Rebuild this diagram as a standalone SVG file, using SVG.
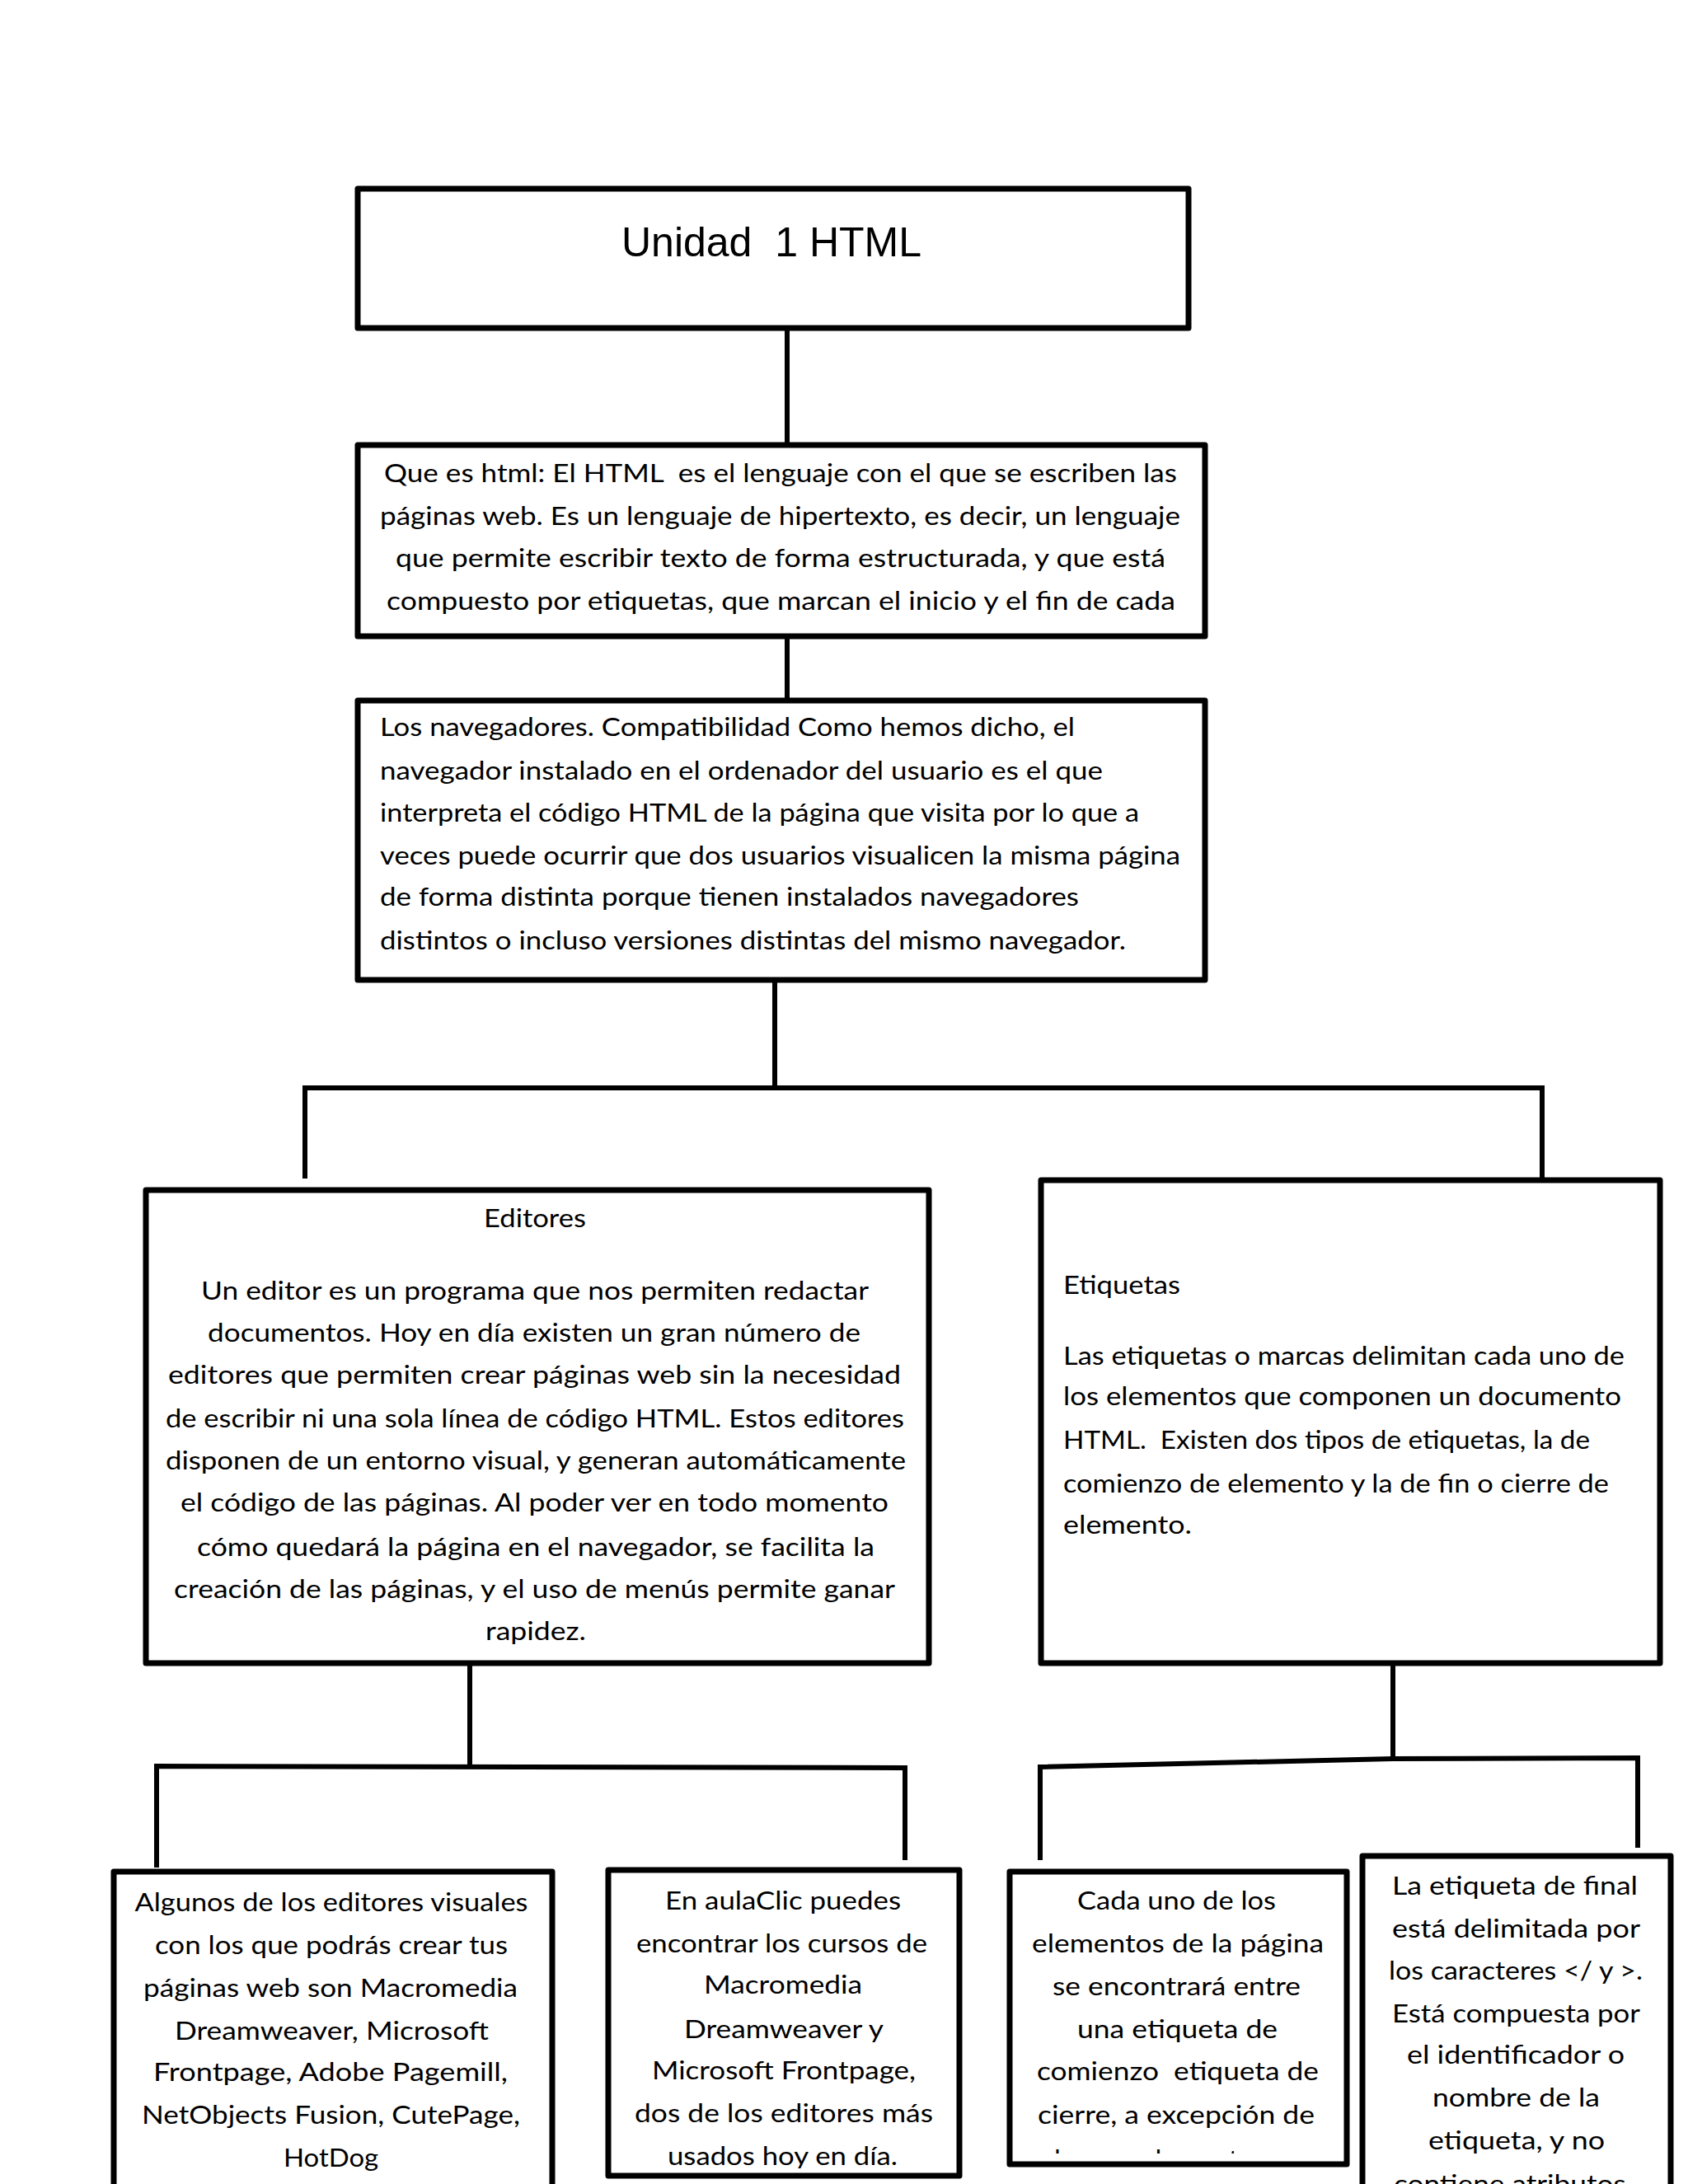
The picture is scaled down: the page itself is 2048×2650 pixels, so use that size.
<svg xmlns="http://www.w3.org/2000/svg" width="2048" height="2650" viewBox="0 0 2048 2650">
<style>
.box{fill:#fff;stroke:#000;stroke-width:7;stroke-linejoin:round}
.conn{fill:none;stroke:#000;stroke-width:6;stroke-linejoin:miter}
.t{font-family:Lato,"Noto Sans","Liberation Sans",sans-serif;font-size:31px;fill:#000}
.c{text-anchor:middle}
.title{font-family:"Liberation Sans",Arial,sans-serif;font-size:50px;fill:#000;text-anchor:middle}
</style>
<defs>
<clipPath id="clipCada"><rect x="1225" y="2271" width="409" height="342"/></clipPath>
<clipPath id="clipAula"><rect x="738" y="2269" width="426" height="362"/></clipPath>
</defs>
<rect width="2048" height="2650" fill="#fff"/>

<g id="connectors">
<line class="conn" x1="955" y1="398" x2="955" y2="540"/>
<line class="conn" x1="955" y1="772" x2="955" y2="850"/>
<polyline class="conn" points="940,1189 940,1320"/>
<polyline class="conn" points="370,1430 370,1320 1871,1320 1871,1432"/>
<line class="conn" x1="570" y1="2018" x2="570" y2="2143"/>
<polyline class="conn" points="190,2266 190,2143 1098,2145 1098,2257"/>
<line class="conn" x1="1690" y1="2018" x2="1690" y2="2136"/>
<polyline class="conn" points="1262,2257 1262,2144 1690,2134 1987,2133 1987,2242"/>
</g>

<g id="node-title">
<rect class="box" x="434" y="229" width="1008" height="169"/>
<text class="title" x="936" y="311" xml:space="preserve">Unidad  1 HTML</text>
</g>

<g id="node-que-es-html">
<rect class="box" x="434" y="540" width="1028" height="232"/>
<text class="t c" x="947" y="585" textLength="962" lengthAdjust="spacingAndGlyphs" xml:space="preserve">Que es html: El HTML  es el lenguaje con el que se escriben las</text>
<text class="t c" x="946.5" y="637" textLength="971" lengthAdjust="spacingAndGlyphs">páginas web. Es un lenguaje de hipertexto, es decir, un lenguaje</text>
<text class="t c" x="947" y="688" textLength="934" lengthAdjust="spacingAndGlyphs">que permite escribir texto de forma estructurada, y que está</text>
<text class="t c" x="947.5" y="740" textLength="957" lengthAdjust="spacingAndGlyphs">compuesto por etiquetas, que marcan el inicio y el fin de cada</text>
</g>

<g id="node-navegadores">
<rect class="box" x="434" y="850" width="1028" height="339"/>
<text class="t" x="461" y="893" textLength="843" lengthAdjust="spacingAndGlyphs">Los navegadores. Compatibilidad Como hemos dicho, el</text>
<text class="t" x="461" y="946" textLength="877" lengthAdjust="spacingAndGlyphs">navegador instalado en el ordenador del usuario es el que</text>
<text class="t" x="461" y="997" textLength="921" lengthAdjust="spacingAndGlyphs">interpreta el código HTML de la página que visita por lo que a</text>
<text class="t" x="461" y="1049" textLength="971" lengthAdjust="spacingAndGlyphs">veces puede ocurrir que dos usuarios visualicen la misma página</text>
<text class="t" x="461" y="1099" textLength="848" lengthAdjust="spacingAndGlyphs">de forma distinta porque tienen instalados navegadores</text>
<text class="t" x="461" y="1152" textLength="905" lengthAdjust="spacingAndGlyphs">distintos o incluso versiones distintas del mismo navegador.</text>
</g>

<g id="node-editores">
<rect class="box" x="177" y="1444" width="950" height="574"/>
<text class="t c" x="649" y="1489" textLength="124" lengthAdjust="spacingAndGlyphs">Editores</text>
<text class="t c" x="649" y="1577" textLength="810" lengthAdjust="spacingAndGlyphs">Un editor es un programa que nos permiten redactar</text>
<text class="t c" x="648" y="1628" textLength="792" lengthAdjust="spacingAndGlyphs">documentos. Hoy en día existen un gran número de</text>
<text class="t c" x="648.5" y="1679" textLength="889" lengthAdjust="spacingAndGlyphs">editores que permiten crear páginas web sin la necesidad</text>
<text class="t c" x="649" y="1732" textLength="896" lengthAdjust="spacingAndGlyphs">de escribir ni una sola línea de código HTML. Estos editores</text>
<text class="t c" x="650" y="1783" textLength="898" lengthAdjust="spacingAndGlyphs">disponen de un entorno visual, y generan automáticamente</text>
<text class="t c" x="648.5" y="1834" textLength="859" lengthAdjust="spacingAndGlyphs">el código de las páginas. Al poder ver en todo momento</text>
<text class="t c" x="650" y="1888" textLength="822" lengthAdjust="spacingAndGlyphs">cómo quedará la página en el navegador, se facilita la</text>
<text class="t c" x="648.5" y="1939" textLength="875" lengthAdjust="spacingAndGlyphs">creación de las páginas, y el uso de menús permite ganar</text>
<text class="t c" x="650" y="1990" textLength="122" lengthAdjust="spacingAndGlyphs">rapidez.</text>
</g>

<g id="node-etiquetas">
<rect class="box" x="1263" y="1432" width="751" height="586"/>
<text class="t" x="1290" y="1570" textLength="142" lengthAdjust="spacingAndGlyphs">Etiquetas</text>
<text class="t" x="1290" y="1656" textLength="681" lengthAdjust="spacingAndGlyphs">Las etiquetas o marcas delimitan cada uno de</text>
<text class="t" x="1290" y="1705" textLength="677" lengthAdjust="spacingAndGlyphs">los elementos que componen un documento</text>
<text class="t" x="1290" y="1758" textLength="639" lengthAdjust="spacingAndGlyphs" xml:space="preserve">HTML.  Existen dos tipos de etiquetas, la de</text>
<text class="t" x="1290" y="1811" textLength="662" lengthAdjust="spacingAndGlyphs">comienzo de elemento y la de fin o cierre de</text>
<text class="t" x="1290" y="1861" textLength="156" lengthAdjust="spacingAndGlyphs">elemento.</text>
</g>

<g id="node-algunos">
<rect class="box" x="138" y="2271" width="532" height="440"/>
<text class="t c" x="402" y="2319" textLength="477" lengthAdjust="spacingAndGlyphs">Algunos de los editores visuales</text>
<text class="t c" x="402" y="2371" textLength="428" lengthAdjust="spacingAndGlyphs">con los que podrás crear tus</text>
<text class="t c" x="401" y="2423" textLength="454" lengthAdjust="spacingAndGlyphs">páginas web son Macromedia</text>
<text class="t c" x="402.5" y="2475" textLength="381" lengthAdjust="spacingAndGlyphs">Dreamweaver, Microsoft</text>
<text class="t c" x="401" y="2525" textLength="430" lengthAdjust="spacingAndGlyphs">Frontpage, Adobe Pagemill,</text>
<text class="t c" x="401.5" y="2577" textLength="459" lengthAdjust="spacingAndGlyphs">NetObjects Fusion, CutePage,</text>
<text class="t c" x="401.5" y="2629" textLength="115" lengthAdjust="spacingAndGlyphs">HotDog</text>
</g>

<g id="node-aulaclic">
<rect class="box" x="738" y="2269" width="426" height="371"/>
<g clip-path="url(#clipAula)">
<text class="t c" x="950" y="2317" textLength="286" lengthAdjust="spacingAndGlyphs">En aulaClic puedes</text>
<text class="t c" x="948.5" y="2369" textLength="353" lengthAdjust="spacingAndGlyphs">encontrar los cursos de</text>
<text class="t c" x="950" y="2419" textLength="192" lengthAdjust="spacingAndGlyphs">Macromedia</text>
<text class="t c" x="951" y="2473" textLength="242" lengthAdjust="spacingAndGlyphs">Dreamweaver y</text>
<text class="t c" x="951" y="2523" textLength="320" lengthAdjust="spacingAndGlyphs">Microsoft Frontpage,</text>
<text class="t c" x="951" y="2575" textLength="362" lengthAdjust="spacingAndGlyphs">dos de los editores más</text>
<text class="t c" x="949.5" y="2627" textLength="279" lengthAdjust="spacingAndGlyphs">usados hoy en día.</text>
</g>
</g>

<g id="node-cada-uno">
<rect class="box" x="1225" y="2271" width="409" height="355"/>
<g clip-path="url(#clipCada)">
<text class="t c" x="1427.5" y="2317" textLength="241" lengthAdjust="spacingAndGlyphs">Cada uno de los</text>
<text class="t c" x="1429" y="2369" textLength="354" lengthAdjust="spacingAndGlyphs">elementos de la página</text>
<text class="t c" x="1427.5" y="2421" textLength="301" lengthAdjust="spacingAndGlyphs">se encontrará entre</text>
<text class="t c" x="1428.5" y="2473" textLength="243" lengthAdjust="spacingAndGlyphs">una etiqueta de</text>
<text class="t c" x="1429" y="2524" textLength="342" lengthAdjust="spacingAndGlyphs" xml:space="preserve">comienzo  etiqueta de</text>
<text class="t c" x="1427" y="2577" textLength="336" lengthAdjust="spacingAndGlyphs">cierre, a excepción de</text>
<text class="t c" x="1431" y="2631" textLength="337" lengthAdjust="spacingAndGlyphs">algunos elementos que</text>
</g>
</g>

<g id="node-etiqueta-final">
<rect class="box" x="1653" y="2252" width="374" height="460"/>
<text class="t c" x="1838" y="2299" textLength="298" lengthAdjust="spacingAndGlyphs">La etiqueta de final</text>
<text class="t c" x="1839.5" y="2351" textLength="301" lengthAdjust="spacingAndGlyphs">está delimitada por</text>
<text class="t c" x="1839" y="2402" textLength="308" lengthAdjust="spacingAndGlyphs">los caracteres &lt;/ y &gt;.</text>
<text class="t c" x="1839.5" y="2454" textLength="301" lengthAdjust="spacingAndGlyphs">Está compuesta por</text>
<text class="t c" x="1839" y="2504" textLength="264" lengthAdjust="spacingAndGlyphs">el identificador o</text>
<text class="t c" x="1839.5" y="2556" textLength="203" lengthAdjust="spacingAndGlyphs">nombre de la</text>
<text class="t c" x="1840" y="2608" textLength="214" lengthAdjust="spacingAndGlyphs">etiqueta, y no</text>
<text class="t c" x="1836" y="2661" textLength="290" lengthAdjust="spacingAndGlyphs">contiene atributos.</text>
</g>
</svg>
